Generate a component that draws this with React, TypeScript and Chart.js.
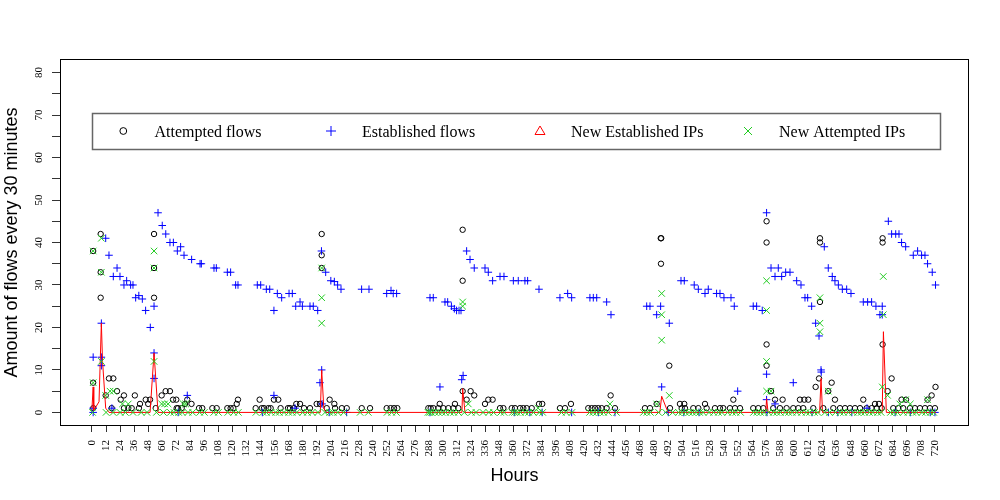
import React, { useEffect, useRef } from "react";
import { Chart, registerables } from "chart.js";

Chart.register(...registerables);

// ---------------- data ----------------
const xTickValues = [0, 12, 24, 36, 48, 60, 72, 84, 96, 108, 120, 132, 144, 156, 168, 180, 192, 204, 216, 228, 240, 252, 264, 276, 288, 300, 312, 324, 336, 348, 360, 372, 384, 396, 408, 420, 432, 444, 456, 468, 480, 492, 504, 516, 528, 540, 552, 564, 576, 588, 600, 612, 624, 636, 648, 660, 672, 684, 696, 708, 720];
const yTickValues = [0, 5, 10, 15, 20, 25, 30, 35, 40, 45, 50, 55, 60, 65, 70, 75, 80];

const legendLabels = ["Attempted flows", "Established flows", "New Established IPs", "New Attempted IPs"];
const xTitle = "Hours";
const yTitle = "Amount of flows every 30 minutes";

// [hour, value]
const attemptedFlows: [number, number][] = [
  [1, 38], [1, 7], [1.1, 1], [7.4, 42], [7.4, 33], [7.4, 27], [11.7, 4], [14.5, 8], [16.8, 1], [18.2, 8],
  [21.4, 5], [24.5, 3], [27.3, 4], [27.3, 1], [31, 1], [33.9, 1], [36.6, 4], [40.1, 1], [41, 2], [45.9, 3],
  [48, 2], [49.6, 3], [53, 42], [53, 34], [53, 27], [54.4, 1], [59.5, 4], [62.9, 5], [66.6, 5], [69.2, 3],
  [72, 3], [72.3, 1], [73.5, 1], [76.6, 1], [79.4, 2], [81.4, 3], [85, 2], [91.4, 1], [94.2, 1], [102.8, 1],
  [106.5, 1], [115.6, 1], [118.4, 1], [120.7, 1], [123.6, 2], [124.7, 3], [139.8, 1], [143.2, 3], [145, 1], [146.9, 1],
  [150.6, 1], [152.6, 1], [155.4, 3], [159.1, 3], [161.1, 1], [167.4, 1], [169.1, 1], [172.5, 1], [174.5, 2], [177.7, 2],
  [181.1, 1], [186.2, 1], [191.9, 2], [194.7, 2], [196.2, 42], [196.2, 37], [196.2, 34], [200.5, 1], [203, 3], [207, 2],
  [207.6, 1], [213.4, 1], [217.6, 1], [230.4, 1], [237.5, 1], [251.7, 1], [255.1, 1], [258, 1], [260.8, 1], [287.3, 1],
  [289.3, 1], [291.6, 1], [295.8, 1], [297, 2], [300.1, 1], [304.4, 1], [308.7, 1], [310, 2], [312.9, 1], [316.6, 43],
  [316.6, 31], [316.6, 5], [320, 3], [323.4, 5], [326.5, 4], [335.7, 2], [338.5, 3], [342.2, 3], [348.5, 1], [351.4, 1],
  [358.5, 1], [361.3, 1], [365.6, 1], [368.4, 1], [371.3, 1], [375.6, 1], [381.8, 2], [384.6, 2], [399.7, 1], [404, 1],
  [409.1, 2], [423.9, 1], [426.8, 1], [429.6, 1], [432.4, 1], [435.3, 1], [439.6, 1], [443, 4], [446.7, 1], [472.3, 1],
  [476.6, 1], [482.3, 2], [485.8, 41], [486.2, 41], [486, 35], [493.1, 11], [493.7, 1], [502.2, 2], [503.7, 1], [505.9, 2],
  [506.5, 1], [513.6, 1], [517.9, 1], [523.6, 2], [525, 1], [532.1, 1], [536.4, 1], [539.2, 1], [544.9, 1], [547.8, 3],
  [549.2, 1], [553.5, 1], [564.8, 1], [569.1, 1], [573.4, 1], [576.2, 45], [576.2, 40], [576.2, 16], [576.2, 11], [580, 5],
  [581.9, 1], [583.4, 3], [587.6, 1], [589.9, 3], [593.3, 1], [599, 1], [603.3, 1], [604.7, 3], [607.5, 1], [608.4, 3],
  [611.8, 3], [616.1, 1], [618.1, 6], [621, 8], [621.8, 41], [621.8, 40], [621.8, 26], [624.6, 1], [628.9, 5], [631.8, 7],
  [633.2, 1], [634.6, 3], [638.9, 1], [643.2, 1], [647.4, 1], [651.7, 1], [656, 1], [658.8, 3], [661.7, 1], [666, 1],
  [668.8, 2], [670.2, 1], [672.2, 2], [674.5, 1], [675.3, 41], [675.3, 40], [675.3, 16], [679.6, 5], [683, 8], [684.4, 1],
  [688.7, 1], [691.5, 3], [692.9, 1], [695.3, 3], [698.7, 1], [702.9, 1], [707.2, 1], [711.5, 1], [713.7, 3], [715.7, 1],
  [717.2, 4], [720, 1], [720.5, 6],
];

const establishedFlows: [number, number][] = [
  [1, 13], [1, 1], [1, 0], [8, 21], [8, 13], [8, 11], [11.7, 41], [14.5, 37], [17, 1], [18.2, 32],
  [21.4, 34], [23.9, 32], [27.3, 30], [29.6, 31], [33, 30], [35, 30], [37.3, 27], [40, 27.5], [43, 26.7], [45.8, 24],
  [49.8, 20], [53, 25], [53, 14], [53, 8], [56.4, 47], [60, 44], [63, 42], [66.6, 40], [69.5, 40], [72.9, 38],
  [73.6, 0], [75.7, 39], [78.6, 37], [81.4, 4], [85.1, 36], [92.3, 35], [93.4, 35], [104.2, 34], [106.2, 34], [115.6, 33],
  [118.4, 33], [122.7, 30], [124.7, 30], [141.2, 30], [144.1, 30], [145.5, 0], [148.9, 29], [151.8, 29], [155.4, 24], [155.4, 4],
  [158.3, 28], [162, 27], [168.3, 28], [171.1, 28], [173.4, 1], [174, 25], [177.7, 26], [179.7, 25], [186.2, 25], [189, 25],
  [192.8, 24], [194.7, 7], [196, 38], [196.2, 10], [196.5, 2], [199.6, 33], [202.6, 0], [204, 31], [207, 30.8], [209.8, 30],
  [212.7, 29], [217.5, 0], [230.3, 29], [236.6, 29], [251.7, 28], [255.4, 28.7], [257.3, 28], [260.2, 28], [288.7, 27], [288.7, 0],
  [291.5, 27], [297.2, 6], [301.5, 26], [303.8, 26], [307, 25], [309.5, 24.4], [311.4, 24], [313.5, 24], [315.2, 24], [315.8, 7.7],
  [317, 8.7], [320, 38], [322.9, 36], [326.5, 34], [335.7, 34], [338.5, 33], [342.2, 31], [348.5, 32], [351.9, 32], [359.9, 31],
  [360.7, 0], [364.1, 31], [369.8, 31], [372.1, 31], [374, 0], [381.8, 29], [384.5, 0], [399.7, 27], [406.3, 28], [409.7, 27],
  [409.7, 0], [425.3, 27], [428.2, 27], [431.1, 27], [432.5, 0], [439.6, 26], [443.3, 23], [446.7, 0], [473.8, 25], [476.6, 25],
  [482.3, 23], [485.7, 25], [486.6, 6], [492.2, 0], [493.1, 21], [503.1, 31], [505.9, 31], [505.5, 0], [514.4, 30], [517.9, 29],
  [518.5, 0], [523.6, 28], [526.4, 29], [533.5, 28], [536.4, 28], [539.8, 27], [545.8, 27], [548.6, 25], [551.5, 5], [564.8, 25],
  [567.7, 25], [572.5, 24], [576.2, 47], [576.2, 9], [576.2, 3], [576.5, 0], [580, 34], [583.4, 32], [583.4, 2], [586.2, 34],
  [589.1, 32], [592.5, 33], [596.2, 33], [599, 7], [601.9, 31], [605.6, 30], [609, 27], [611.3, 27], [614.7, 25], [615, 0],
  [618.1, 21], [621, 18], [622.7, 10], [622.9, 9.5], [625.5, 39], [628.9, 34], [629, 0], [632.3, 32], [634.6, 31], [637, 0],
  [637.5, 30], [640.9, 29], [644.6, 29], [648.3, 28], [649, 0], [658.8, 26], [662.5, 26], [662, 1], [665.9, 26], [669.6, 25],
  [673, 23], [675, 25], [675, 23], [680.2, 45], [683, 42], [686.5, 42], [686, 0], [689.3, 42], [691.5, 40], [695, 39],
  [699, 0], [701.5, 37], [705.2, 38], [708.6, 37], [711.5, 37], [713.7, 35], [716, 0], [717.7, 33], [720, 0], [720.5, 30],
];

const newEstablishedIPs: [number, number][] = [
  [0, 1], [1, 6], [1.5, 0.5], [6, 2.5], [8, 21], [9, 12], [11.7, 1], [14.5, 0], [49.6, 0], [53, 14],
  [56.4, 0], [195, 0], [196.2, 10], [198, 1], [200, 0], [316, 0], [316.6, 5.6], [318.6, 0], [485, 0], [486.6, 3.8],
  [492, 0], [575.5, 0], [576.2, 3.2], [577.5, 0], [621.5, 0], [622.7, 8], [624, 0], [675, 0], [676, 19], [678.5, 0],
  [721, 0],
];

const newAttemptedIPs: [number, number][] = [
  [1, 38], [1, 7], [8, 41], [8, 33], [8, 12], [11.7, 4], [15.4, 5], [18.2, 5], [26, 2], [31, 2],
  [53, 38], [53, 34], [53, 12], [59.5, 2], [62, 2], [65, 2], [78, 2], [80, 2], [196.2, 34], [196.2, 27],
  [196.2, 21], [316.6, 26], [316.6, 25], [321.4, 2], [381, 1], [442.4, 2], [482.3, 2], [486.6, 28], [486.6, 23], [486.6, 17],
  [493.1, 4], [576.2, 31], [576.2, 24], [576.2, 12], [576.2, 5], [580, 5], [621.8, 27], [621.8, 21], [621.8, 19], [628.9, 5],
  [675.9, 32], [675.9, 23], [675, 6], [679.6, 4], [690, 2], [695, 3], [699, 2], [713.7, 3],
  [0.5, 0], [12, 0], [18, 0], [24, 0], [28.5, 0], [35, 0], [42, 0], [47, 0], [55, 0], [61, 0],
  [67, 0], [70, 0], [74, 0], [77, 0], [82, 0], [86, 0], [92, 0], [96, 0], [104, 0], [108, 0],
  [116, 0], [121, 0], [125, 0], [140, 0], [146, 0], [149, 0], [153, 0], [157, 0], [160, 0], [164, 0],
  [168, 0], [171, 0], [175, 0], [180, 0], [184, 0], [188, 0], [193, 0], [199, 0], [203, 0], [206, 0],
  [210, 0], [215, 0], [229, 0], [236, 0], [252, 0], [256, 0], [260, 0], [287, 0], [288.5, 0], [290, 0],
  [293, 0], [296, 0], [299, 0], [302, 0], [306, 0], [309, 0], [313, 0], [318, 0], [324, 0], [328, 0],
  [334, 0], [339, 0], [343, 0], [349, 0], [352, 0], [359, 0], [361, 0], [363, 0], [366, 0], [370, 0],
  [373, 0], [377, 0], [382, 0], [385, 0], [401, 0], [405, 0], [410, 0], [425, 0], [428, 0], [431, 0],
  [434, 0], [437, 0], [441, 0], [448, 0], [471, 0], [474, 0], [477, 0], [484, 0], [490, 0], [496, 0],
  [501, 0], [504, 0], [507, 0], [510, 0], [513, 0], [516, 0], [519, 0], [522, 0], [527, 0], [531, 0],
  [535, 0], [538, 0], [543, 0], [547, 0], [550, 0], [554, 0], [565, 0], [568, 0], [571, 0], [574, 0],
  [578, 0], [582, 0], [585, 0], [588, 0], [592, 0], [595, 0], [598, 0], [602, 0], [606, 0], [610, 0],
  [613, 0], [617, 0], [620, 0], [626, 0], [630, 0], [635, 0], [639, 0], [642, 0], [646, 0], [650, 0],
  [654, 0], [657, 0], [660, 0], [664, 0], [667, 0], [671, 0], [674, 0], [682, 0], [685, 0], [688, 0],
  [693, 0], [697, 0], [701, 0], [704, 0], [709, 0], [712, 0], [716, 0], [719, 0],
];

// ---------------- helpers ----------------
const toPoints = (arr: [number, number][]) => arr.map(([x, y]) => ({ x, y }));

const COLORS = {
  attempted: "#000000",
  established: "#0000FF",
  newEstablished: "#FF0000",
  newAttempted: "#22CC22",
};

const framePlugin = {
  id: "rframe",
  afterDraw(chart: any) {
    const { ctx, chartArea: a } = chart;
    ctx.save();
    // box
    ctx.strokeStyle = "#000";
    ctx.lineWidth = 1;
    const L = Math.round(a.left) + 0.5;
    const T = Math.round(a.top) + 0.5;
    const R = Math.round(a.right) - 0.5;
    const B = Math.round(a.bottom) - 0.5;
    ctx.strokeRect(L, T, R - L, B - T);

    // axis titles
    ctx.fillStyle = "#000";
    ctx.font = '18px "Liberation Sans", Arial, sans-serif';
    ctx.textAlign = "center";
    ctx.textBaseline = "alphabetic";
    ctx.fillText(xTitle, (a.left + a.right) / 2, 481);
    ctx.save();
    ctx.translate(16.5, (a.top + a.bottom) / 2);
    ctx.rotate(-Math.PI / 2);
    ctx.fillText(yTitle, 0, 0);
    ctx.restore();

    // legend
    const lx = 92.5, ly = 113.5, lw = 848, lh = 36;
    ctx.fillStyle = "#fff";
    ctx.fillRect(lx, ly, lw, lh);
    ctx.strokeStyle = "#666";
    ctx.lineWidth = 1.5;
    ctx.strokeRect(lx, ly, lw, lh);

    const cy = 131;
    const symX = [123.3, 331, 540, 748];
    const txtX = [154.5, 362, 571, 779];
    ctx.lineWidth = 1;
    // circle
    ctx.strokeStyle = COLORS.attempted;
    ctx.beginPath();
    ctx.arc(symX[0], cy, 3.4, 0, Math.PI * 2);
    ctx.stroke();
    // plus
    ctx.strokeStyle = COLORS.established;
    ctx.beginPath();
    ctx.moveTo(symX[1] - 5, cy); ctx.lineTo(symX[1] + 5, cy);
    ctx.moveTo(symX[1], cy - 5); ctx.lineTo(symX[1], cy + 5);
    ctx.stroke();
    // triangle
    ctx.strokeStyle = COLORS.newEstablished;
    ctx.beginPath();
    ctx.moveTo(symX[2], cy - 5);
    ctx.lineTo(symX[2] - 5, cy + 3.5);
    ctx.lineTo(symX[2] + 5, cy + 3.5);
    ctx.closePath();
    ctx.stroke();
    // x
    ctx.strokeStyle = COLORS.newAttempted;
    ctx.beginPath();
    ctx.moveTo(symX[3] - 4, cy - 4); ctx.lineTo(symX[3] + 4, cy + 4);
    ctx.moveTo(symX[3] - 4, cy + 4); ctx.lineTo(symX[3] + 4, cy - 4);
    ctx.stroke();

    ctx.fillStyle = "#000";
    ctx.font = '16px "Liberation Serif", "Times New Roman", serif';
    ctx.textAlign = "left";
    ctx.textBaseline = "alphabetic";
    legendLabels.forEach((t, i) => ctx.fillText(t, txtX[i], 137));
    ctx.restore();
  },
};

export default function App() {
  const ref = useRef<HTMLCanvasElement | null>(null);

  useEffect(() => {
    if (!ref.current) return;
    const tickFont = { family: '"Liberation Serif", "Times New Roman", serif', size: 11 };
    const chart = new Chart(ref.current, {
      type: "scatter",
      data: {
        datasets: [
          {
            label: legendLabels[3],
            data: toPoints(newAttemptedIPs),
            pointStyle: "crossRot",
            pointRadius: 4.6,
            borderColor: COLORS.newAttempted,
            backgroundColor: COLORS.newAttempted,
            borderWidth: 1,
            order: 0,
          },
          {
            label: legendLabels[2],
            data: toPoints(newEstablishedIPs),
            showLine: true,
            pointRadius: 0,
            borderColor: COLORS.newEstablished,
            backgroundColor: COLORS.newEstablished,
            borderWidth: 1,
            tension: 0,
            order: 1,
          },
          {
            label: legendLabels[1],
            data: toPoints(establishedFlows),
            pointStyle: "cross",
            pointRadius: 3.8,
            borderColor: COLORS.established,
            backgroundColor: COLORS.established,
            borderWidth: 1,
            order: 2,
          },
          {
            label: legendLabels[0],
            data: toPoints(attemptedFlows),
            pointStyle: "circle",
            pointRadius: 2.7,
            borderColor: COLORS.attempted,
            backgroundColor: "rgba(0,0,0,0)",
            borderWidth: 1,
            order: 3,
          },
        ],
      },
      options: {
        responsive: false,
        animation: false,
        devicePixelRatio: 1,
        events: [],
        layout: { padding: { left: 0, top: 59, right: 31, bottom: 0 } },
        plugins: { legend: { display: false }, tooltip: { enabled: false } },
        scales: {
          x: {
            type: "linear",
            position: "bottom",
            min: -27.33,
            max: 749.1,
            afterBuildTicks: (s: any) => {
              s.ticks = xTickValues.map((v) => ({ value: v }));
            },
            afterFit: (s: any) => {
              s.height = 74;
            },
            border: { display: false },
            grid: { drawOnChartArea: false, drawTicks: true, tickLength: 6, color: "#333", lineWidth: 1 },
            ticks: {
              autoSkip: false,
              minRotation: 90,
              maxRotation: 90,
              padding: 8,
              color: "#000",
              font: tickFont,
              callback: (v: any) => String(v),
            },
          },
          y: {
            type: "linear",
            position: "left",
            min: -3.2,
            max: 83.2,
            afterBuildTicks: (s: any) => {
              s.ticks = yTickValues.map((v) => ({ value: v }));
            },
            afterFit: (s: any) => {
              s.width = 60;
            },
            border: { display: false },
            grid: { drawOnChartArea: false, drawTicks: true, tickLength: 8, color: "#333", lineWidth: 1 },
            ticks: {
              autoSkip: false,
              minRotation: 90,
              maxRotation: 90,
              crossAlign: "center",
              padding: 7,
              color: "#000",
              font: tickFont,
              callback: (v: any) => (Number(v) % 10 === 0 ? String(v) : ""),
            },
          },
        },
      },
      plugins: [framePlugin],
    } as any);
    return () => chart.destroy();
  }, []);

  return (
    <div style={{ position: "absolute", left: 0, top: 0, width: 1000, height: 500, background: "#fff" }}>
      <canvas ref={ref} width={1000} height={500} style={{ display: "block" }} />
    </div>
  );
}
